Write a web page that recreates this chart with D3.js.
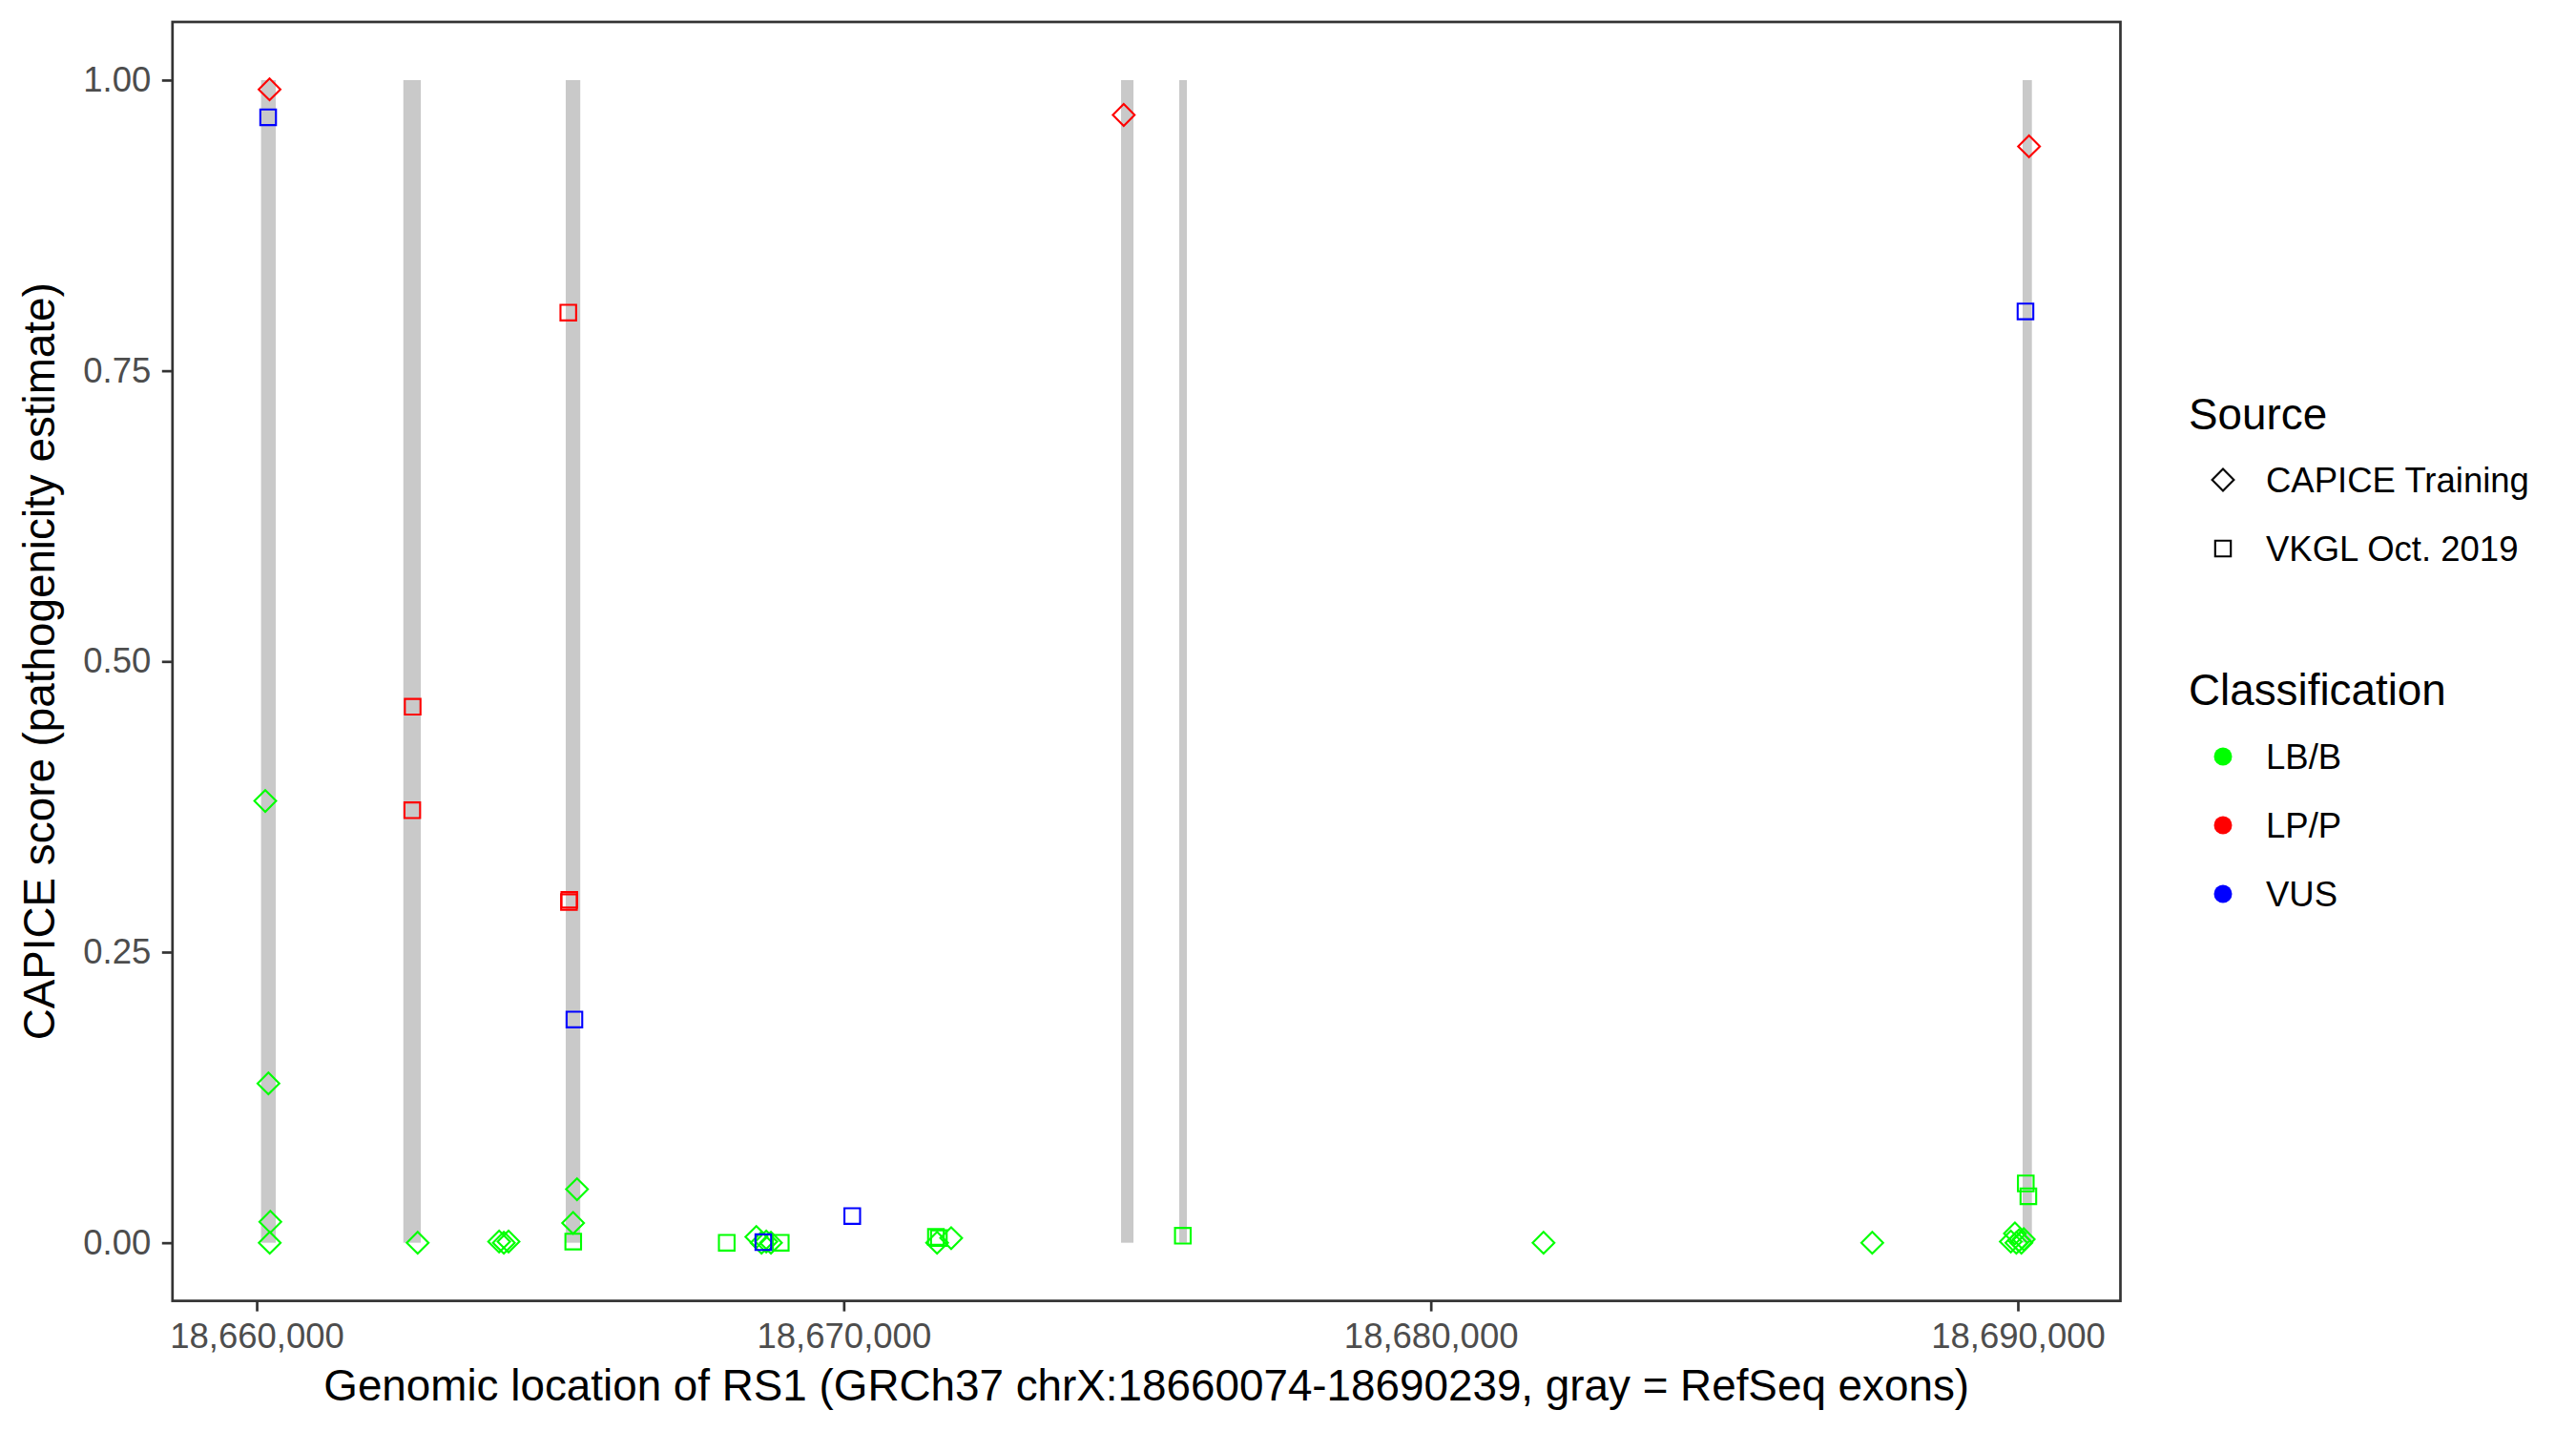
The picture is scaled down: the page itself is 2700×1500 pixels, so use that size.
<!DOCTYPE html>
<html>
<head>
<meta charset="utf-8">
<script src="https://cdn.jsdelivr.net/npm/d3@7"></script>
<style>
  html, body { margin: 0; padding: 0; background: #ffffff; }
  svg { display: block; font-family: "Liberation Sans", Arial, sans-serif; }
</style>
</head>
<body>
<svg id="chart" width="2700" height="1500"></svg>
<script>
// ---------------- data ----------------
const geneStart = 18660074;
const geneEnd = 18690239;

// RefSeq exons (gray bars)
const exonStart = [18660074, 18662498, 18665264, 18674724, 18675715, 18690081];
const exonEnd   = [18660325, 18662796, 18665512, 18674935, 18675845, 18690239];

// CAPICE Training variants (diamonds)
const capicePos = [18660219, 18660146, 18660200, 18660232, 18660222, 18662742,
  18664130, 18664210, 18664290, 18665456, 18665390, 18668511, 18668600, 18668680,
  18668760, 18671590, 18671830, 18674769, 18681920, 18687520, 18689880, 18689950,
  18689975, 18690020, 18690060, 18690100, 18690190];
const capiceScore = [0.992, 0.380, 0.137, 0.018, 0.000, 0.000,
  0.001, 0.000, 0.001, 0.046, 0.017, 0.005, 0.000, 0.001,
  0.000, 0.000, 0.004, 0.970, 0.000, 0.000, 0.001, 0.008,
  0.000, 0.002, 0.000, 0.003, 0.943];
const capiceClass = ["LP/P", "LB/B", "LB/B", "LB/B", "LB/B", "LB/B",
  "LB/B", "LB/B", "LB/B", "LB/B", "LB/B", "LB/B", "LB/B", "LB/B",
  "LB/B", "LB/B", "LB/B", "LP/P", "LB/B", "LB/B", "LB/B", "LB/B",
  "LB/B", "LB/B", "LB/B", "LB/B", "LP/P"];

// VKGL Oct. 2019 variants (squares)
const vkglPos = [18660195, 18662657, 18662650, 18665308, 18665319, 18665325,
  18665412, 18665392, 18668007, 18668927, 18668630, 18670145, 18671570, 18671620,
  18675776, 18690130, 18690135, 18690179];
const vkglScore = [0.968, 0.461, 0.372, 0.800, 0.293, 0.295,
  0.192, 0.001, 0.000, 0.000, 0.0005, 0.023, 0.005, 0.004,
  0.006, 0.801, 0.051, 0.040];
const vkglClass = ["VUS", "LP/P", "LP/P", "LP/P", "LP/P", "LP/P",
  "VUS", "LB/B", "LB/B", "LB/B", "VUS", "VUS", "LB/B", "LB/B",
  "LB/B", "VUS", "LB/B", "LB/B"];

const sourceLabels = ["CAPICE Training", "VKGL Oct. 2019"];
const classLabels = ["LB/B", "LP/P", "VUS"];
const classColors = ["#00ff00", "#ff0000", "#0000ff"];
const xTicks = [18660000, 18670000, 18680000, 18690000];
const yTicks = [0, 0.25, 0.5, 0.75, 1];
const xTitle = "Genomic location of RS1 (GRCh37 chrX:18660074-18690239, gray = RefSeq exons)";
const yTitle = "CAPICE score (pathogenicity estimate)";

// ---------------- layout ----------------
const svg = d3.select("#chart");
const panel = { left: 180.8, right: 2222.5, top: 23, bottom: 1363.6 };
const expandX = (geneEnd - geneStart) * 0.05;
const tickFont = "36.5px";
const titleFont = "45.8px";

const x = d3.scaleLinear()
  .domain([geneStart - expandX, geneEnd + expandX])
  .range([panel.left, panel.right]);
const y = d3.scaleLinear()
  .domain([-0.05, 1.05])
  .range([panel.bottom, panel.top]);
const color = d3.scaleOrdinal().domain(classLabels).range(classColors);

svg.append("rect").attr("width", 2700).attr("height", 1500).attr("fill", "#ffffff");

// exon bars
const exons = exonStart.map((s, i) => ({ s, e: exonEnd[i] }));
svg.append("g").selectAll("rect").data(exons).join("rect")
  .attr("x", d => x(d.s))
  .attr("width", d => x(d.e) - x(d.s))
  .attr("y", y(1))
  .attr("height", y(0) - y(1))
  .attr("fill", "#c9c9c9");

// points
const diamondR = 11.4;
const squareS = 16.4;
function diamondPath(r) { return `M0,${-r}L${r},0L0,${r}L${-r},0Z`; }
function squarePath(s) { const h = s / 2; return `M${-h},${-h}H${h}V${h}H${-h}Z`; }

const pts = [];
capicePos.forEach((p, i) => pts.push({ pos: p, score: capiceScore[i], cls: capiceClass[i], src: sourceLabels[0] }));
vkglPos.forEach((p, i) => pts.push({ pos: p, score: vkglScore[i], cls: vkglClass[i], src: sourceLabels[1] }));

svg.append("g").selectAll("path").data(pts).join("path")
  .attr("transform", d => `translate(${x(d.pos)},${y(d.score)})`)
  .attr("d", d => d.src === sourceLabels[0] ? diamondPath(diamondR) : squarePath(squareS))
  .attr("fill", "none")
  .attr("stroke", d => color(d.cls))
  .attr("stroke-width", 2.1);

// panel border
svg.append("rect")
  .attr("x", panel.left).attr("y", panel.top)
  .attr("width", panel.right - panel.left).attr("height", panel.bottom - panel.top)
  .attr("fill", "none").attr("stroke", "#333333").attr("stroke-width", 2.7);

// axes
const xAxis = svg.append("g")
  .attr("transform", `translate(0,${panel.bottom})`)
  .call(d3.axisBottom(x).tickValues(xTicks).tickFormat(d3.format(",")).tickSize(11).tickPadding(12));
const yAxis = svg.append("g")
  .attr("transform", `translate(${panel.left},0)`)
  .call(d3.axisLeft(y).tickValues(yTicks).tickFormat(d3.format(".2f")).tickSize(11).tickPadding(11.5));
[xAxis, yAxis].forEach(a => {
  a.select(".domain").remove();
  a.selectAll(".tick line").attr("stroke", "#333333").attr("stroke-width", 2.7);
  a.selectAll(".tick text").attr("fill", "#4d4d4d")
    .style("font-size", tickFont).style("font-family", "'Liberation Sans', Arial, sans-serif");
});

// axis titles
svg.append("text")
  .attr("x", (panel.left + panel.right) / 2).attr("y", 1468)
  .attr("text-anchor", "middle").attr("fill", "#000")
  .style("font-size", titleFont).text(xTitle);
svg.append("text")
  .attr("transform", `translate(57,${(panel.top + panel.bottom) / 2}) rotate(-90)`)
  .attr("text-anchor", "middle").attr("fill", "#000")
  .style("font-size", titleFont).text(yTitle);

// legends
const legX = 2294, keyX = 2330, labX = 2375;
svg.append("text").attr("x", legX).attr("y", 450).style("font-size", titleFont).attr("fill", "#000").text("Source");
const srcY = [503, 575];
sourceLabels.forEach((lab, i) => {
  svg.append("path")
    .attr("transform", `translate(${keyX},${srcY[i]})`)
    .attr("d", i === 0 ? diamondPath(diamondR) : squarePath(squareS))
    .attr("fill", "none").attr("stroke", "#000").attr("stroke-width", 2.1);
  svg.append("text").attr("x", labX).attr("y", srcY[i] + 13)
    .style("font-size", tickFont).attr("fill", "#000").text(lab);
});

svg.append("text").attr("x", legX).attr("y", 739).style("font-size", titleFont).attr("fill", "#000").text("Classification");
const clsY = [793, 865, 937];
classLabels.forEach((lab, i) => {
  svg.append("circle").attr("cx", keyX).attr("cy", clsY[i]).attr("r", 9.5).attr("fill", color(lab));
  svg.append("text").attr("x", labX).attr("y", clsY[i] + 13)
    .style("font-size", tickFont).attr("fill", "#000").text(lab);
});
</script>
</body>
</html>
